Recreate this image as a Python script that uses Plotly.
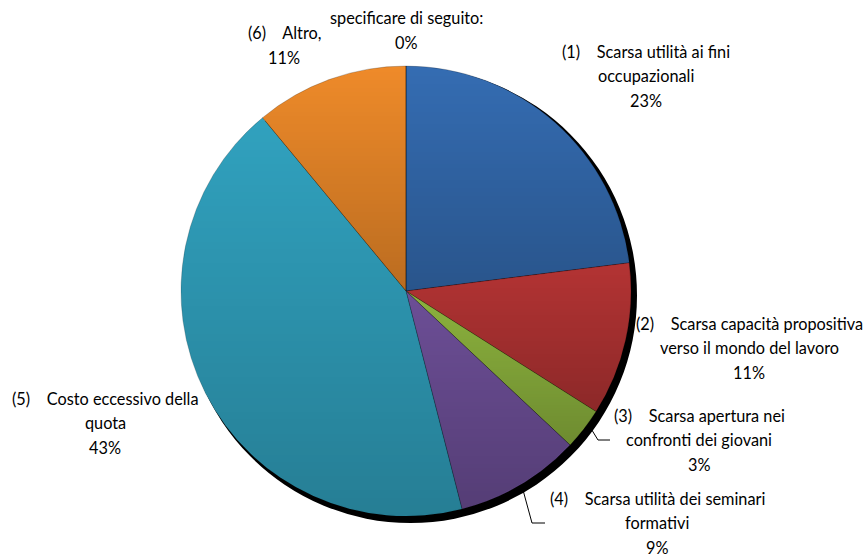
## Pie chart: motivi della mancata iscrizione (ricostruzione in plotly)
import base64
import struct
import zlib

import numpy as np
import plotly.graph_objects as go

W, H = 868, 558
SP = "\u00a0" * 4   # the wide gap after the number, as in the original

# data
categories = ["(1) Scarsa utilità ai fini occupazionali",
              "(2) Scarsa capacità propositiva verso il mondo del lavoro",
              "(3) Scarsa apertura nei confronti dei giovani",
              "(4) Scarsa utilità dei seminari formativi",
              "(5) Costo eccessivo della quota",
              "(6) Altro,",
              "specificare di seguito:"]
percent = [23, 11, 3, 9, 43, 11, 0]
label_lines = [["(1)" + SP + "Scarsa utilità ai fini", "occupazionali"],
               ["(2)" + SP + "Scarsa capacità propositiva", "verso il mondo del lavoro"],
               ["(3)" + SP + "Scarsa apertura nei", "confronti dei giovani"],
               ["(4)" + SP + "Scarsa utilità dei seminari", "formativi"],
               ["(5)" + SP + "Costo eccessivo della", "quota"],
               ["(6)" + SP + "Altro,"],
               ["specificare di seguito:"]]
# light (top) tones, each slice gets darker towards its bottom (overlay below)
colors = ["#356db3", "#b43434", "#8db33e", "#6d4f97", "#31a2bf", "#ef8b2a", "#8a8a8a"]

# where the labels sit (pixel centre of first line)
label_pos = [(646, 51), (749, 323), (699, 415), (657, 498), (105, 398), (284, 33), (406, 18)]
LINE = 24.5

cx, cy, r = 406, 291, 225
SHADE = 0.22


def px(x):
    return x / W


def py(y):
    return 1 - y / H


def gradient_png():
    # black overlay, alpha growing from the top to the bottom of every slice
    n = 2 * r
    yy, xx = np.mgrid[0:n, 0:n] + 0.5
    dx, dy = xx - r, yy - r
    dist = np.hypot(dx, dy)
    theta = np.mod(np.arctan2(dx, -dy), 2 * np.pi)
    cum = np.cumsum([0] + percent) / sum(percent) * 2 * np.pi
    alpha = np.zeros((n, n))
    for i in range(len(percent)):
        if percent[i] == 0:
            continue
        t = np.linspace(cum[i], cum[i + 1], 200)
        ys = np.concatenate([[r], r - r * np.cos(t)])
        top, bot = ys.min(), ys.max()
        m = (theta >= cum[i]) & (theta < cum[i + 1])
        alpha[m] = SHADE * np.clip((yy[m] - top) / (bot - top), 0, 1)
    alpha *= np.clip(r - 0.5 - dist + 0.5, 0, 1)
    rgba = np.zeros((n, n, 4), dtype=np.uint8)
    rgba[..., 3] = np.round(alpha * 255).astype(np.uint8)
    raw = b"".join(b"\x00" + rgba[j].tobytes() for j in range(n))

    def chunk(tag, data):
        return struct.pack(">I", len(data)) + tag + data + struct.pack(">I", zlib.crc32(tag + data) & 0xffffffff)

    png = (b"\x89PNG\r\n\x1a\n" + chunk(b"IHDR", struct.pack(">IIBBBBB", n, n, 8, 6, 0, 0, 0))
           + chunk(b"IDAT", zlib.compress(raw, 9)) + chunk(b"IEND", b""))
    return "data:image/png;base64," + base64.b64encode(png).decode()


fig = go.Figure(go.Pie(
    labels=categories, values=percent, sort=False, direction='clockwise',
    rotation=0, textinfo='none', hoverinfo='label+percent',
    marker=dict(colors=colors, line=dict(color='rgba(0,0,0,0.35)', width=0.6)),
    domain=dict(x=[px(cx - r), px(cx + r)], y=[py(cy + r), py(cy - r)]),
    showlegend=False))

annotations = []
for lines, val, (x, y) in zip(label_lines, percent, label_pos):
    for i, t in enumerate(lines + [f"{val}%"]):
        annotations.append(dict(text=t, x=px(x), y=py(y + i * LINE), xref='paper', yref='paper',
                                xanchor='center', yanchor='middle', showarrow=False,
                                font=dict(family='Lato', size=16.3, color='#000000')))

shapes = [
    # drop shadow under the pie
    dict(type='circle', layer='below', xref='paper', yref='paper',
         x0=px(cx - r + 3), x1=px(cx + r + 6), y0=py(cy + r + 7), y1=py(cy - r + 2),
         fillcolor='#000000', line=dict(width=0)),
    # leader lines
    dict(type='path', xref='paper', yref='paper', line=dict(color='#000000', width=1),
         path=f"M{px(590)},{py(427)} L{px(598)},{py(440)} L{px(610)},{py(440)}"),
    dict(type='path', xref='paper', yref='paper', line=dict(color='#000000', width=1),
         path=f"M{px(523)},{py(490)} L{px(532)},{py(523)} L{px(545)},{py(523)}"),
]

images = [dict(source=gradient_png(), xref='paper', yref='paper', x=px(cx - r), y=py(cy - r),
               sizex=2 * r / W, sizey=2 * r / H, sizing='stretch',
               xanchor='left', yanchor='top', layer='above')]

fig.update_layout(width=W, height=H, margin=dict(l=0, r=0, t=0, b=0),
                  paper_bgcolor='#FFFFFF', plot_bgcolor='#FFFFFF',
                  annotations=annotations, shapes=shapes, images=images)
fig.write_html("out.html", config={'displayModeBar': False},
               post_script="document.body.style.margin='0';")
